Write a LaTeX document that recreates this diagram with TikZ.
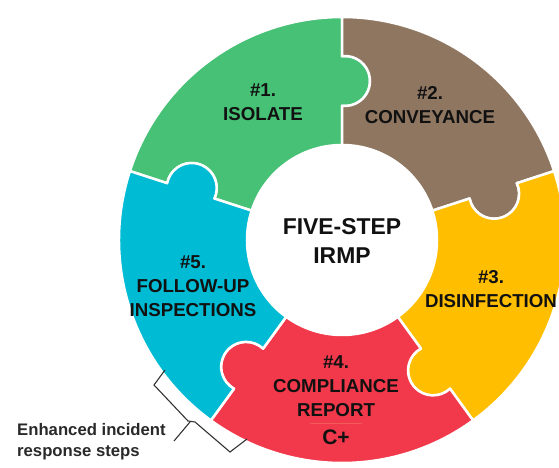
\documentclass[tikz,border=0pt]{standalone}
\usepackage{fontspec}
\setmainfont{Liberation Sans}
\definecolor{pzgreen}{HTML}{46C175}
\definecolor{pzbrown}{HTML}{8F7661}
\definecolor{pzyellow}{HTML}{FFBF00}
\definecolor{pzred}{HTML}{F2394B}
\definecolor{pzcyan}{HTML}{00BBD4}
\definecolor{pztext}{HTML}{111111}
\definecolor{pzfaint}{HTML}{F0A070}
% piece between angles #1 (clockwise edge, with knob) and #2 (with socket)
\newcommand\PzPiece[3]{%
  \path[piece, fill=#3]
    (#1:95pt) -- (#1:134.18pt)
    arc[start angle=#1+180-6.89, end angle=#1+360+6.89, radius=25pt]
    -- (#1:223pt)
    arc[start angle=#1, end angle=#2, radius=223pt]
    -- (#2:183.82pt)
    arc[start angle=#2+6.89, end angle=#2-180-6.89, radius=25pt]
    -- (#2:95pt)
    arc[start angle=#2, end angle=#1, radius=95pt]
    -- cycle;}
\begin{document}
\begin{tikzpicture}[x=1pt,y=1pt,
  piece/.style={draw=white, line width=2.5pt, line join=round},
  lbl/.style={font=\fontsize{18.7}{24}\selectfont\bfseries, text=pztext, align=center, inner sep=0pt},
  hub/.style={font=\fontsize{22.9}{29}\selectfont\bfseries, text=pztext, align=center, inner sep=0pt},
  note/.style={font=\fontsize{16.7}{21}\selectfont\bfseries, text=pztext!90, align=left, inner sep=0pt},
  bracket/.style={draw=black!80, line width=1.1pt, line join=miter}]
\useasboundingbox (0,0) rectangle (559,468);
\clip (0,0) rectangle (559,468);
\begin{scope}[shift={(342,228)}]
  \PzPiece{90}{162}{pzgreen}
  \PzPiece{18}{90}{pzbrown}
  \PzPiece{-54}{18}{pzyellow}
  \PzPiece{-126}{-54}{pzred}
  \PzPiece{162}{234}{pzcyan}
\end{scope}
% labels
\node[lbl] (s1) at (263,366) {\#1.\\ISOLATE};
\node[lbl] (s2) at (430,363) {\#2.\\CONVEYANCE};
\node[hub] (hub) at (342,226.5) {FIVE-STEP\\IRMP};
\node[lbl] (s3) at (491,179) {\#3.\\DISINFECTION};
\node[lbl] (s5) at (193,182) {\#5.\\FOLLOW-UP\\INSPECTIONS};
\node[lbl] (s4) at (336,82) {\#4.\\COMPLIANCE\\REPORT};
\node[font=\fontsize{21}{24}\selectfont\bfseries, text=pztext, inner sep=0pt] (grade) at (336,31) {C+};
\coordinate (fa) at (310,45);
\coordinate (fb) at (362,45);
\draw[pzfaint, opacity=0.35, line width=0.5pt] (fa) -- (fb);
% bracket and note
\node[note, anchor=west] (note) at (17,26.5) {Enhanced incident\\response steps};
\coordinate (b1) at (165,98);
\coordinate (b2) at (154,83);
\coordinate (b3) at (188,47);
\coordinate (b4) at (195,46);
\coordinate (bm) at (190,46);
\coordinate (tip) at (174,27);
\coordinate (b5) at (230,16);
\coordinate (b6) at (247,29);
\draw[bracket] (b1) -- (b2) -- (b3) -- (b4) -- (b5) -- (b6);
\draw[bracket] (bm) -- (tip);
\end{tikzpicture}
\end{document}
